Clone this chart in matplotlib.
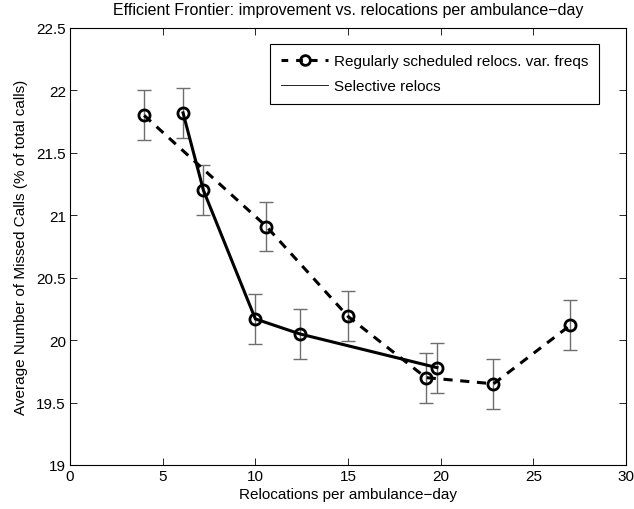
import matplotlib
matplotlib.use("Agg")
import matplotlib.pyplot as plt
from matplotlib.lines import Line2D

plt.rcParams['font.family'] = ['Liberation Sans', 'DejaVu Sans']

# regularly scheduled relocations (dashed)
reg_x = [4.0, 10.6, 15.0, 19.2, 22.85, 27.0]
reg_y = [21.80, 20.91, 20.19, 19.70, 19.65, 20.12]
reg_err = [0.2, 0.2, 0.2, 0.2, 0.2, 0.2]

# selective relocations (solid)
sel_x = [6.1, 7.2, 10.0, 12.4, 19.8]
sel_y = [21.82, 21.20, 20.17, 20.05, 19.78]
sel_err = [0.2, 0.2, 0.2, 0.2, 0.2]

xticks = [0, 5, 10, 15, 20, 25, 30]
yticks = [19, 19.5, 20, 20.5, 21, 21.5, 22, 22.5]
ylabels = ['19', '19.5', '20', '20.5', '21', '21.5', '22', '22.5']

fig = plt.figure(figsize=(6.34, 5.10), dpi=100)
ax = fig.add_axes([70/634, 44/510, 556/634, 437/510])

ax.errorbar(reg_x, reg_y, yerr=reg_err, fmt='none', ecolor='#6e6e6e',
            elinewidth=1, capsize=4.7, capthick=1, zorder=2)
ax.errorbar(sel_x, sel_y, yerr=sel_err, fmt='none', ecolor='#6e6e6e',
            elinewidth=1, capsize=4.7, capthick=1, zorder=2)

ax.plot(reg_x, reg_y, 'k--', lw=2.2, marker='o', markersize=8,
        markerfacecolor='none', markeredgewidth=2, dashes=(3, 2.5), zorder=3)
ax.plot(sel_x, sel_y, 'k-', lw=2.2, marker='o', markersize=8,
        markerfacecolor='none', markeredgewidth=2, zorder=3)

# legend handles (solid entry drawn thin, like the original)
handles = [Line2D([], [], color='k', ls='--', lw=2.2, dashes=(2.2, 2.6), marker='o',
                  markersize=7, markerfacecolor='none', markeredgewidth=2),
           Line2D([], [], color='k', ls='-', lw=0.6)]
leg = ax.legend(handles, ['Regularly scheduled relocs. var. freqs', 'Selective relocs'],
                loc='upper right', bbox_to_anchor=(0.951, 0.964), borderaxespad=0,
                fontsize=11, fancybox=False, framealpha=1, edgecolor='k',
                handlelength=3.1, handletextpad=0.35, labelspacing=0.7,
                borderpad=0.7)
leg.get_frame().set_linewidth(0.8)

ax.set_xlim(0, 30)
ax.set_ylim(19, 22.5)
ax.set_xticks(xticks)
ax.set_yticks(yticks)
ax.set_yticklabels(ylabels)
ax.tick_params(direction='in', top=True, right=True, labelsize=11, length=5, width=0.6, pad=3)
for s in ax.spines.values():
    s.set_linewidth(0.8)

ax.set_xlabel('Relocations per ambulance\u2212day', fontsize=11, labelpad=3)
ax.set_ylabel('Average Number of Missed Calls (% of total calls)', fontsize=11, labelpad=6)
ax.set_title('Efficient Frontier: improvement vs. relocations per ambulance\u2212day',
             fontsize=11.5, pad=10)

fig.savefig('out.png', dpi=100)
